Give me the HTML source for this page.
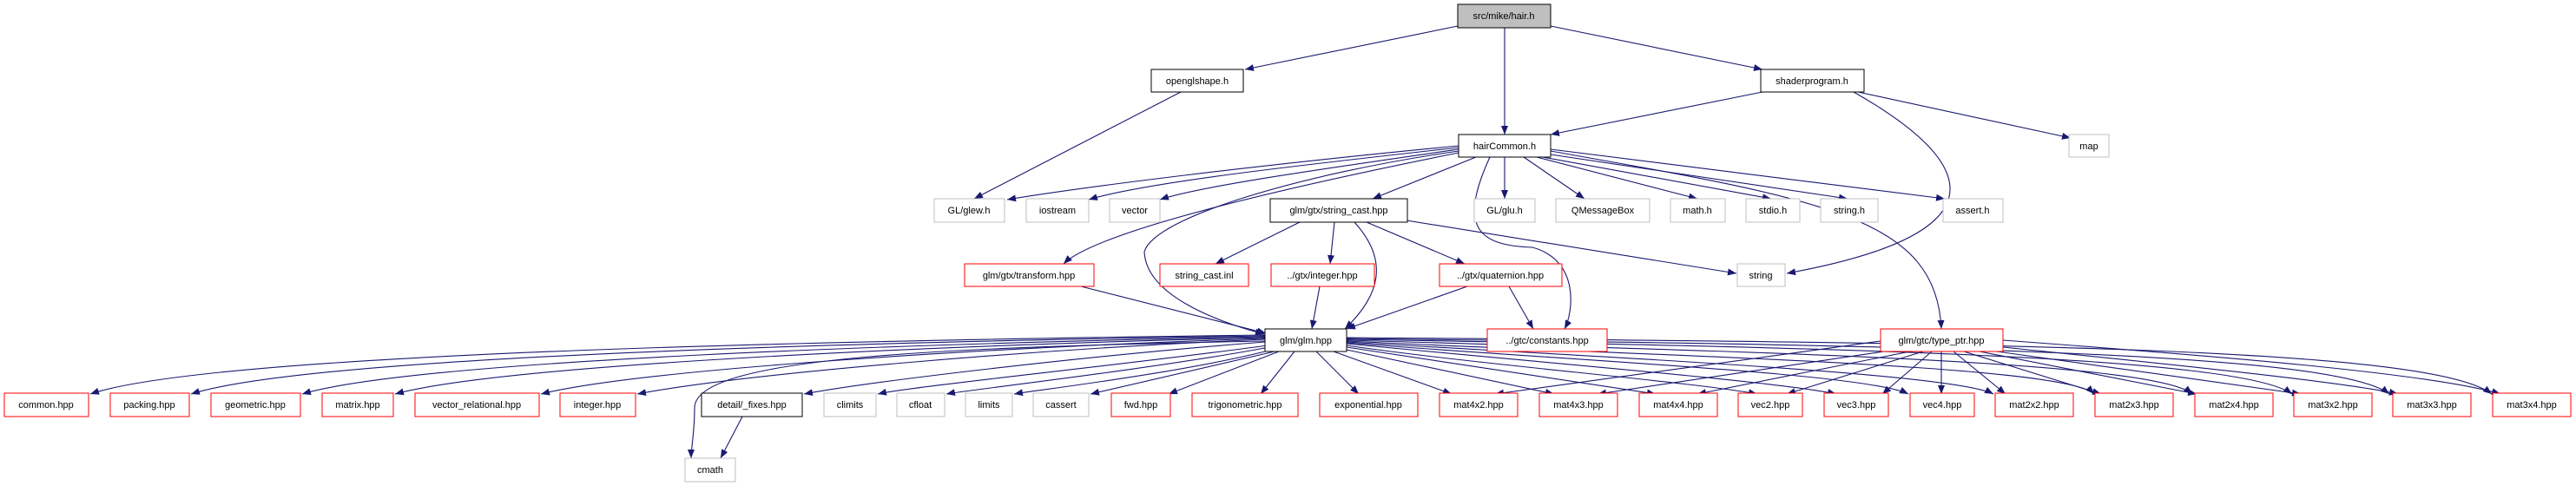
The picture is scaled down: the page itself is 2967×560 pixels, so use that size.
<!DOCTYPE html>
<html><head><meta charset="utf-8"><style>
html,body{margin:0;padding:0;background:#fff;}
svg{display:block}
text{font-family:"Liberation Sans",sans-serif;font-size:11px;fill:#000}
.e{fill:none;stroke:#191970;stroke-width:1.1}
.B{fill:#fff;stroke:#000;stroke-width:1}
.G{fill:#fff;stroke:#bfbfbf;stroke-width:1}
.R{fill:#fff;stroke:#ff0000;stroke-width:1}
</style></head><body>
<svg width="2967" height="560" viewBox="0 0 2967 560" xmlns="http://www.w3.org/2000/svg">
<defs><marker id="a" viewBox="0 0 10 8" refX="10" refY="4" markerWidth="10" markerHeight="8" markerUnits="userSpaceOnUse" orient="auto"><path d="M0,0 L10,4 L0,8 z" fill="#191970"/></marker></defs>
<g marker-end="url(#a)">
<path class="e" d="M1679,30 L1434,80"/>
<path class="e" d="M1733,32 L1733,155"/>
<path class="e" d="M1786,30 L2030,80"/>
<path class="e" d="M1360,106 L1122,229"/>
<path class="e" d="M2030,106 L1786,155"/>
<path class="e" d="M2140,106 L2385,159"/>
<path class="e" d="M2135,106 C2230,160 2360,260 2058,315"/>
<path class="e" d="M1680,168 C1450,190 1250,215 1160,230"/>
<path class="e" d="M1680,170 C1500,190 1320,210 1254,230"/>
<path class="e" d="M1680,172 C1520,195 1380,215 1336,230"/>
<path class="e" d="M1700,181 L1581,229"/>
<path class="e" d="M1733,181 L1733,229"/>
<path class="e" d="M1755,181 L1825,229"/>
<path class="e" d="M1770,181 L1955,229"/>
<path class="e" d="M1777,181 L2040,229"/>
<path class="e" d="M1786,178 L2128,229"/>
<path class="e" d="M1786,172 L2240,229"/>
<path class="e" d="M1786,174 C2100,230 2230,250 2236,379"/>
<path class="e" d="M1680,176 C1560,200 1270,260 1225,304"/>
<path class="e" d="M1680,174 C1500,200 1330,250 1318,290 C1320,340 1400,370 1456,385"/>
<path class="e" d="M1716,181 C1680,260 1700,283 1765,285 C1820,300 1812,360 1802,379"/>
<path class="e" d="M1497,256 L1400,304"/>
<path class="e" d="M1537,256 L1532,304"/>
<path class="e" d="M1574,256 L1687,304"/>
<path class="e" d="M1620,254 L2000,315"/>
<path class="e" d="M1560,256 C1600,300 1590,340 1549,379"/>
<path class="e" d="M1245,330 L1458,384"/>
<path class="e" d="M1520,330 L1511,379"/>
<path class="e" d="M1690,330 L1551,379"/>
<path class="e" d="M1738,330 L1766,379"/>
<path class="e" d="M1457,386 C1000,392 250,405 104,454"/>
<path class="e" d="M1457,387 C1000,394 360,410 220,454"/>
<path class="e" d="M1457,388 C1050,396 480,415 348,454"/>
<path class="e" d="M1457,389 C1080,398 580,420 455,454"/>
<path class="e" d="M1457,390 C1150,400 740,425 623,454"/>
<path class="e" d="M1457,391 C1200,402 860,430 734,454"/>
<path class="e" d="M1457,393 C1100,400 800,410 800,470 C800,500 796,515 796,528"/>
<path class="e" d="M855,480 L830,528"/>
<path class="e" d="M1457,394 C1250,410 1000,440 926,454"/>
<path class="e" d="M1460,398 C1300,420 1050,445 1011,454"/>
<path class="e" d="M1462,400 C1330,425 1110,450 1090,454"/>
<path class="e" d="M1465,403 C1360,430 1190,450 1168,454"/>
<path class="e" d="M1468,405 L1256,454"/>
<path class="e" d="M1473,405 L1346,454"/>
<path class="e" d="M1491,405 L1452,454"/>
<path class="e" d="M1516,405 L1565,454"/>
<path class="e" d="M1536,405 L1672,454"/>
<path class="e" d="M1551,403 L1790,454"/>
<path class="e" d="M1551,400 L1907,454"/>
<path class="e" d="M1551,398 C1700,420 1950,440 2024,454"/>
<path class="e" d="M1551,396 C1800,420 2050,440 2115,454"/>
<path class="e" d="M1551,395 C1800,415 2150,430 2198,454"/>
<path class="e" d="M1551,394 C1850,412 2250,430 2296,454"/>
<path class="e" d="M1551,393 C1900,410 2380,420 2412,454"/>
<path class="e" d="M1551,392 C2000,405 2480,415 2525,454"/>
<path class="e" d="M1551,391 C2100,400 2580,410 2640,454"/>
<path class="e" d="M1551,390 C2200,398 2690,405 2752,454"/>
<path class="e" d="M1551,389 C2300,395 2800,400 2870,454"/>
<path class="e" d="M2166,393 L1722,454"/>
<path class="e" d="M2170,405 L1840,454"/>
<path class="e" d="M2200,405 L1955,454"/>
<path class="e" d="M2215,405 L2058,454"/>
<path class="e" d="M2225,405 L2168,454"/>
<path class="e" d="M2236,405 L2236,454"/>
<path class="e" d="M2250,405 L2310,454"/>
<path class="e" d="M2262,405 L2420,454"/>
<path class="e" d="M2280,405 L2530,454"/>
<path class="e" d="M2300,405 L2650,454"/>
<path class="e" d="M2307,400 C2500,420 2700,440 2762,454"/>
<path class="e" d="M2307,392 C2550,410 2800,430 2880,454"/>
</g>
<rect x="1679" y="5" width="107" height="27" fill="#bfbfbf" stroke="#000"/>
<rect class="B" x="1326" y="80" width="106" height="26"/><rect class="B" x="2028" y="80" width="119" height="26"/>
<rect class="B" x="1680" y="155" width="106" height="26"/><rect class="G" x="2383" y="155" width="46" height="26"/>
<rect class="G" x="1076" y="229" width="81" height="27"/><rect class="G" x="1182" y="229" width="72" height="27"/><rect class="G" x="1278" y="229" width="58" height="27"/>
<rect class="B" x="1463" y="229" width="158" height="27"/><rect class="G" x="1698" y="229" width="70" height="27"/><rect class="G" x="1792" y="229" width="108" height="27"/>
<rect class="G" x="1924" y="229" width="63" height="27"/><rect class="G" x="2011" y="229" width="62" height="27"/><rect class="G" x="2097" y="229" width="66" height="27"/><rect class="G" x="2238" y="229" width="69" height="27"/>
<rect class="R" x="1111" y="304" width="149" height="26"/><rect class="R" x="1336" y="304" width="102" height="26"/><rect class="R" x="1464" y="304" width="119" height="26"/><rect class="R" x="1658" y="304" width="141" height="26"/><rect class="G" x="2001" y="304" width="55" height="26"/>
<rect class="B" x="1457" y="379" width="94" height="26"/><rect class="R" x="1713" y="379" width="138" height="26"/><rect class="R" x="2166" y="379" width="141" height="26"/>
<g transform="translate(0,453)">
<rect class="R" x="5" width="97" height="27"/><rect class="R" x="127" width="91" height="27"/><rect class="R" x="243" width="103" height="27"/><rect class="R" x="371" width="82" height="27"/><rect class="R" x="478" width="143" height="27"/><rect class="R" x="645" width="87" height="27"/>
<rect class="B" x="808" width="116" height="27"/><rect class="G" x="949" width="60" height="27"/><rect class="G" x="1033" width="55" height="27"/><rect class="G" x="1112" width="54" height="27"/><rect class="G" x="1190" width="64" height="27"/>
<rect class="R" x="1280" width="68" height="27"/><rect class="R" x="1373" width="122" height="27"/><rect class="R" x="1520" width="113" height="27"/>
<rect class="R" x="1658" width="90" height="27"/><rect class="R" x="1773" width="90" height="27"/><rect class="R" x="1888" width="90" height="27"/><rect class="R" x="2002" width="74" height="27"/><rect class="R" x="2101" width="74" height="27"/><rect class="R" x="2200" width="74" height="27"/>
<rect class="R" x="2298" width="90" height="27"/><rect class="R" x="2413" width="90" height="27"/><rect class="R" x="2528" width="90" height="27"/><rect class="R" x="2642" width="90" height="27"/><rect class="R" x="2756" width="90" height="27"/><rect class="R" x="2871" width="90" height="27"/>
</g>
<rect class="G" x="789" y="528" width="58" height="27"/>
<g text-anchor="middle">
<text x="1732" y="22">src/mike/hair.h</text>
<text x="1379" y="97">openglshape.h</text><text x="2087" y="97">shaderprogram.h</text>
<text x="1733" y="172">hairCommon.h</text><text x="2406" y="172">map</text>
<text x="1116" y="246">GL/glew.h</text><text x="1218" y="246">iostream</text><text x="1307" y="246">vector</text><text x="1542" y="246">glm/gtx/string_cast.hpp</text><text x="1733" y="246">GL/glu.h</text><text x="1846" y="246">QMessageBox</text><text x="1955" y="246">math.h</text><text x="2042" y="246">stdio.h</text><text x="2130" y="246">string.h</text><text x="2272" y="246">assert.h</text>
<text x="1185" y="321">glm/gtx/transform.hpp</text><text x="1387" y="321">string_cast.inl</text><text x="1523" y="321">../gtx/integer.hpp</text><text x="1728" y="321">../gtx/quaternion.hpp</text><text x="2028" y="321">string</text>
<text x="1504" y="396">glm/glm.hpp</text><text x="1782" y="396">../gtc/constants.hpp</text><text x="2236" y="396">glm/gtc/type_ptr.hpp</text>
</g>
<g text-anchor="middle" transform="translate(0,470)">
<text x="53">common.hpp</text><text x="172">packing.hpp</text><text x="294">geometric.hpp</text><text x="412">matrix.hpp</text><text x="549">vector_relational.hpp</text><text x="688">integer.hpp</text>
<text x="866">detail/_fixes.hpp</text><text x="979">climits</text><text x="1060">cfloat</text><text x="1139">limits</text><text x="1222">cassert</text><text x="1314">fwd.hpp</text><text x="1434">trigonometric.hpp</text><text x="1576">exponential.hpp</text>
<text x="1703">mat4x2.hpp</text><text x="1818">mat4x3.hpp</text><text x="1933">mat4x4.hpp</text><text x="2039">vec2.hpp</text><text x="2138">vec3.hpp</text><text x="2237">vec4.hpp</text>
<text x="2343">mat2x2.hpp</text><text x="2458">mat2x3.hpp</text><text x="2573">mat2x4.hpp</text><text x="2687">mat3x2.hpp</text><text x="2801">mat3x3.hpp</text><text x="2916">mat3x4.hpp</text>
</g>
<text x="818" y="545" text-anchor="middle">cmath</text>
</svg>
</body></html>
